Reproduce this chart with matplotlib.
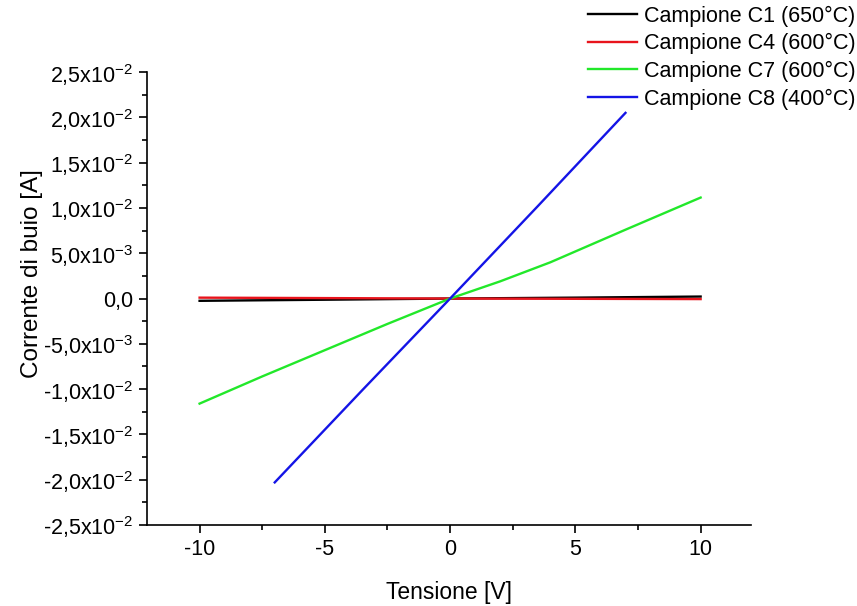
import numpy as np
import matplotlib
matplotlib.use("Agg")
import matplotlib.pyplot as plt
from matplotlib.ticker import MultipleLocator, FuncFormatter

plt.rcParams['font.family'] = ['Liberation Sans', 'DejaVu Sans']
plt.rcParams['mathtext.fontset'] = 'custom'
plt.rcParams['mathtext.rm'] = 'Liberation Sans'
plt.rcParams['mathtext.it'] = 'Liberation Sans:italic'
plt.rcParams['axes.unicode_minus'] = False

# ---- data ----
v_c1 = [-10, -5, 0, 5, 10]
i_c1 = [-2.5e-4, -1.3e-4, 0.0, 1.0e-4, 2.2e-4]

v_c4 = [-10, -5, 0, 5, 10]
i_c4 = [1.0e-4, 0.5e-4, 0.0, -0.3e-4, -0.6e-4]

v_c7 = [-10, -7.5, -5, -2.5, 0, 2, 4, 7, 10]
i_c7 = [-1.16e-2, -0.86e-2, -0.57e-2, -0.28e-2, 0.0, 0.19e-2, 0.40e-2, 0.76e-2, 1.115e-2]

v_c8 = [-7, -3.5, 0, 3.5, 7]
i_c8 = [-2.03e-2, -1.01e-2, 0.0, 1.02e-2, 2.05e-2]

labels = ["Campione C1 (650°C)", "Campione C4 (600°C)",
          "Campione C7 (600°C)", "Campione C8 (400°C)"]
colors = ["#000000", "#e8141c", "#22e82a", "#1414e6"]


def sci_fmt(y, pos):
    if abs(y) < 1e-12:
        return "0,0"
    exp = int(np.floor(np.log10(abs(y))))
    mant = y / 10 ** exp
    s = f"{mant:.1f}".replace(".", ",")
    return s + "x10$^{\\mathregular{" + str(exp) + "}}$"


fig = plt.figure(figsize=(8.57, 6.06), dpi=100)
ax = fig.add_axes([0.1715, 0.1337, 0.7045, 0.7473])

ax.plot(v_c1, i_c1, color=colors[0], lw=1.7, label=labels[0])
ax.plot(v_c4, i_c4, color=colors[1], lw=1.7, label=labels[1])
ax.plot(v_c7, i_c7, color=colors[2], lw=1.7, label=labels[2])
ax.plot(v_c8, i_c8, color=colors[3], lw=1.7, label=labels[3])

ax.set_xlim(-12.1, 12.0)
ax.set_ylim(-0.025, 0.025)
ax.xaxis.set_major_locator(MultipleLocator(5))
ax.xaxis.set_minor_locator(MultipleLocator(2.5))
ax.yaxis.set_major_locator(MultipleLocator(0.005))
ax.yaxis.set_minor_locator(MultipleLocator(0.0025))
ax.yaxis.set_major_formatter(FuncFormatter(sci_fmt))

ax.spines['top'].set_visible(False)
ax.spines['right'].set_visible(False)
ax.spines['left'].set_linewidth(1.2)
ax.spines['bottom'].set_linewidth(1.2)
ax.tick_params(which='major', direction='out', length=6, width=1.2, labelsize=15.5, pad=4)
ax.tick_params(which='minor', direction='out', length=3.5, width=1.2)

ax.set_xlabel("Tensione [V]", fontsize=16.5, labelpad=15)
ax.set_ylabel("Corrente di buio [A]", fontsize=17.5)
ax.yaxis.set_label_coords(-0.173, 0.556)

fig.legend(loc='upper right', bbox_to_anchor=(1.013, 1.012), frameon=False,
           fontsize=15.5, handlelength=2.3, handletextpad=0.3, labelspacing=0.3,
           borderaxespad=0.2)

fig.savefig("out.png", dpi=100)
